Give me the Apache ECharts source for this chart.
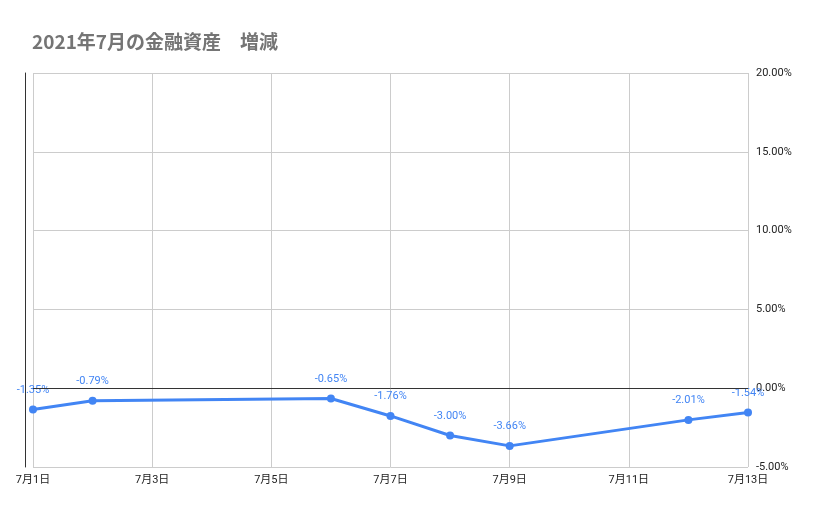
<!DOCTYPE html>
<html>
<head>
<meta charset="utf-8">
<script src="https://cdn.jsdelivr.net/npm/echarts@6/dist/echarts.min.js"></script>
<style>html,body{margin:0;padding:0;background:#fff}#chart{width:829px;height:514px}</style>
</head>
<body>
<div id="chart"></div>
<script>
    // 7月の日付（日）と増減率（%）
    var days = [1, 2, 6, 7, 8, 9, 12, 13];
    var rates = [-1.35, -0.79, -0.65, -1.76, -3.00, -3.66, -2.01, -1.54];
    var data = days.map(function (d, i) { return [d, rates[i]]; });

    var myChart = echarts.init(document.getElementById('chart'));
    var option = {
        backgroundColor: '#fff',
        textStyle: { fontFamily: 'Roboto, "Noto Sans CJK JP", sans-serif' },
        title: {
            text: '2021年7月の金融資産　増減',
            left: 27, top: 27,
            textStyle: { fontSize: 19, fontWeight: 'bold', color: '#757575', fontFamily: '"Noto Sans CJK JP", sans-serif' }
        },
        grid: { left: 33, right: 81, top: 73, bottom: 47 },
        xAxis: {
            type: 'value', min: 1, max: 13, interval: 2,
            axisLine: { show: false }, axisTick: { show: false },
            axisLabel: { color: '#222', fontSize: 11, margin: 8, formatter: function (v) { return '7月' + v + '日'; } },
            splitLine: { lineStyle: { color: '#ccc' } }
        },
        yAxis: [{
            type: 'value', position: 'right', min: -5, max: 20, interval: 5,
            axisLine: { show: false }, axisTick: { show: false },
            axisLabel: { color: '#222', fontSize: 11, formatter: function (v) { return v.toFixed(2) + '%'; } },
            splitLine: { lineStyle: { color: '#ccc' } }
        }, {
            type: 'value', position: 'left', offset: 8, min: -5, max: 20,
            axisLine: { show: true, lineStyle: { color: '#333' } },
            axisTick: { show: false }, axisLabel: { show: false }, splitLine: { show: false }
        }],
        series: [{
            type: 'line', data: data,
            symbol: 'circle', symbolSize: 8,
            lineStyle: { color: '#4285f4', width: 3 },
            itemStyle: { color: '#4285f4' },
            label: { show: true, position: 'top', distance: 10, color: '#4285f4', fontSize: 11,
                formatter: function (p) { return p.value[1].toFixed(2) + '%'; } },
            markLine: {
                silent: true, symbol: 'none', label: { show: false },
                lineStyle: { color: '#333', type: 'solid', width: 1 },
                data: [{ yAxis: 0 }]
            }
        }]
    };
    myChart.setOption(option);
</script>
</body>
</html>
